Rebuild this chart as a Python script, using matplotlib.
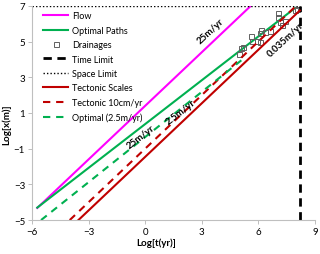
import numpy as np
import matplotlib.pyplot as plt

plt.rcParams['font.family'] = ['Lato', 'DejaVu Sans']

# line points in log10 space (t in yr, x in m)
flow_t = [-5.72, 5.6]
flow_x = [-4.32, 7.0]
opt_t = [-5.72, 7.95]
opt_x = [-4.30, 6.88]
tect_t = [-3.54, 8.2]
tect_x = [-5.0, 6.74]
tect10_t = [-4.0, 8.0]
tect10_x = [-5.0, 7.0]
opt25_t = [-5.52, 5.1]
opt25_x = [-5.0, 3.95]

drain_t = [4.96, 5.07, 5.19, 5.63, 5.67, 5.95, 6.08, 6.16, 6.08, 6.38, 6.61,
           7.05, 7.05, 7.14, 7.23, 7.40, 7.94, 8.06]
drain_x = [4.30, 4.62, 4.71, 5.33, 5.05, 5.05, 5.47, 5.67, 4.96, 5.52, 5.61,
           6.61, 6.36, 6.08, 5.93, 6.17, 6.79, 6.83]

time_limit = 8.2
space_limit = 7.0

fig = plt.figure(figsize=(3.2, 2.55), dpi=100)
ax = fig.add_axes([0.1, 0.133, 0.884, 0.84])

magenta = '#ff00ff'
green = '#00b050'
red = '#c00000'

ax.plot(flow_t, flow_x, color=magenta, lw=1.5, label='Flow')
ax.plot(opt_t, opt_x, color=green, lw=1.5, label='Optimal Paths')
ax.plot(drain_t, drain_x, ls='none', marker='s', ms=3.6, mfc='none',
        mec='#606060', mew=0.7, label='Drainages')
ax.axvline(time_limit, color='black', lw=2, ls=(0, (3, 2)), label='Time Limit')
ax.plot([-6, time_limit], [space_limit, space_limit], color='black', lw=1,
        ls=(0, (1, 1.5)), label='Space Limit')
ax.plot(tect_t, tect_x, color=red, lw=1.5, label='Tectonic Scales')
ax.plot(tect10_t, tect10_x, color=red, lw=1.5, ls=(0, (3.5, 2.8)),
        label='Tectonic 10cm/yr')
ax.plot(opt25_t, opt25_x, color=green, lw=1.5, ls=(0, (3.5, 2.8)),
        label='Optimal (2.5m/yr)')

txt = dict(fontsize=7, fontweight='bold', ha='center', va='center')
ax.text(3.45, 5.6, '25m/yr', rotation=43, **txt)
ax.text(-0.25, -0.3, '25m/yr', rotation=38, **txt)
ax.text(1.9, 1.05, '2.5m/yr', rotation=38, **txt)
ax.text(7.45, 5.15, '0.035m/yr', rotation=43, **txt)

ax.set_xlim(-6, 9)
ax.set_ylim(-5, 7)
ax.set_xticks([-6, -3, 0, 3, 6, 9])
ax.set_yticks([-5, -3, -1, 1, 3, 5, 7])
ax.tick_params(labelsize=7, length=3, width=0.7, color='#bfbfbf', pad=2)
for s in ['top', 'right']:
    ax.spines[s].set_visible(False)
for s in ['left', 'bottom']:
    ax.spines[s].set_color('#bfbfbf')
    ax.spines[s].set_linewidth(0.8)

ax.set_xlabel('Log[t(yr)]', fontsize=7, fontweight='bold')
ax.set_ylabel('Log[x(m)]', fontsize=7, fontweight='bold')
ax.xaxis.set_label_coords(0.44, -0.08)
ax.yaxis.set_label_coords(-0.075, 0.45)

ax.legend(loc='upper left', bbox_to_anchor=(0.02, 1.0), frameon=False,
          fontsize=6.5, handlelength=2.8, labelspacing=0.6, handletextpad=0.4,
          borderaxespad=0.2)

fig.savefig('out.png', dpi=100)
